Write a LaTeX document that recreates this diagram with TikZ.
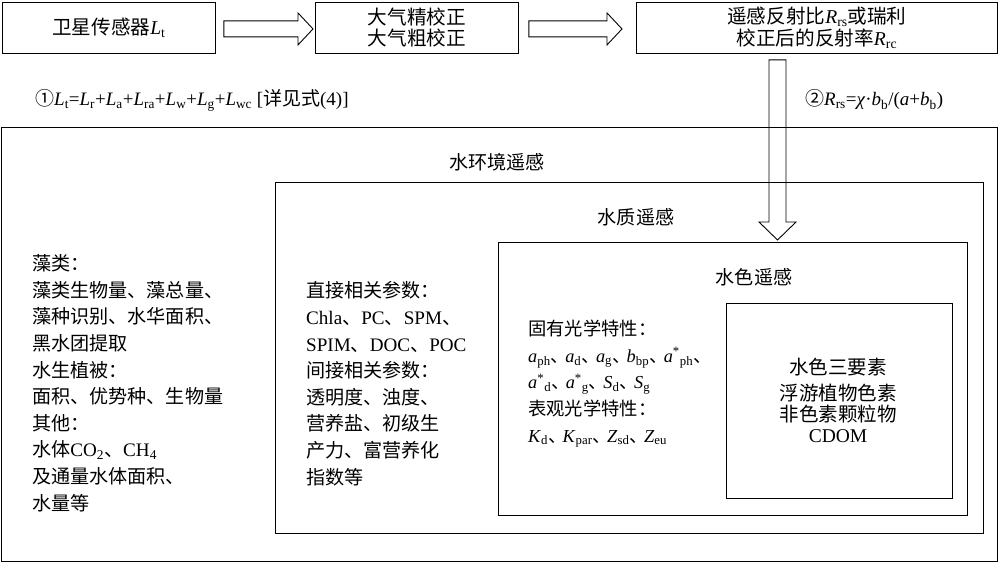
\documentclass[tikz,border=0pt]{standalone}
\usepackage{fontspec}
\setmainfont{Liberation Serif}
\newfontfamily\zhfont{Noto Sans CJK SC}
\usetikzlibrary{calc}
\newcommand\zh[1]{{\zhfont #1}}
\newcommand\vsub[2]{\textit{#1}\textsubscript{#2}}
\newcommand\vstar[2]{\textit{#1}\textsuperscript{*}\textsubscript{#2}}
\newcommand\dun{\makebox[0.8em][l]{\zh{、}}}
\begin{document}
\begin{tikzpicture}[x=1pt,y=-1pt,
  box/.style={draw, line width=0.9pt, inner sep=0pt, anchor=north west},
  topbox/.style={box, minimum height=51pt, align=center, font=\fontsize{19.6}{21}\selectfont},
  blk/.style={inner sep=0pt, align=left, anchor=base west, font=\fontsize{19.1}{26.6}\selectfont},
  lbl/.style={inner sep=0pt, anchor=base, font=\fontsize{19.1}{22}\selectfont},
  fml/.style={inner sep=0pt, anchor=base west, font=\fontsize{19}{22}\selectfont},
  hollow/.style={draw, line width=0.9pt, line join=miter}]
\useasboundingbox (0,0) rectangle (1000,564);

% top row
\node[topbox, minimum width=213pt] (b1) at (2,2) {\zh{卫星传感器}\vsub{L}{t}};
\node[topbox, minimum width=203pt] (b2) at (315,2) {\zh{大气精校正}\\\zh{大气粗校正}};
\node[topbox, minimum width=361pt, font=\fontsize{19.6}{22.5}\selectfont] (b3) at (636,2) {\zh{遥感反射比}\vsub{R}{rs}\zh{或瑞利}\hspace{10pt}\\\zh{校正后的反射率}\vsub{R}{rc}\hspace{10pt}};

% nested boxes
\node[box, minimum width=996pt, minimum height=434pt] (outer) at (1,127) {};
\node[box, minimum width=708pt, minimum height=351pt] (env) at (275,182) {};
\node[box, minimum width=469pt, minimum height=273pt] (qual) at (498,242) {};
\node[box, minimum width=226pt, minimum height=195pt] (col) at (726,303) {};

% formulas
\node[fml] (f1) at (35,106) {\zh{①}\vsub{L}{t}=\vsub{L}{r}+\vsub{L}{a}+\vsub{L}{ra}+\vsub{L}{w}+\vsub{L}{g}+\vsub{L}{wc} [\zh{详见式}(4)]};
\node[fml] (f2) at (805,106) {\zh{②}\vsub{R}{rs}=\textit{χ}·\vsub{b}{b}/(\textit{a}+\vsub{b}{b})};

% labels
\node[lbl] (lenv) at (497,170) {\zh{水环境遥感}};
\node[lbl] (lq) at (636,224) {\zh{水质遥感}};
\node[lbl] (lc) at (754,284) {\zh{水色遥感}};

% text blocks (anchor = baseline of last line)
\node[blk] (tleft) at (32,510) {\zh{藻类：}\\
\zh{藻类生物量、藻总量、}\\
\zh{藻种识别、水华面积、}\\
\zh{黑水团提取}\\
\zh{水生植被：}\\
\zh{面积、优势种、生物量}\\
\zh{其他：}\\
\zh{水体}CO\textsubscript{2}\zh{、}CH\textsubscript{4}\\
\zh{及通量水体面积、}\\
\zh{水量等}};

\node[blk] (tmid) at (306,484) {\zh{直接相关参数：}\\
Chla\zh{、}PC\zh{、}SPM\zh{、}\\
SPIM\zh{、}DOC\zh{、}POC\\
\zh{间接相关参数：}\\
\zh{透明度、浊度、}\\
\zh{营养盐、初级生}\\
\zh{产力、富营养化}\\
\zh{指数等}};

\node[blk, font=\fontsize{18.3}{26.6}\selectfont] (tcol) at (528,442) {\zh{固有光学特性：}\\
\vsub{a}{ph}\dun\vsub{a}{d}\dun\vsub{a}{g}\dun\vsub{b}{bp}\dun\vstar{a}{ph}\dun\\
\vstar{a}{d}\dun\vstar{a}{g}\dun\vsub{S}{d}\dun\vsub{S}{g}\\
\zh{表观光学特性：}\\
\vsub{K}{d}\dun\vsub{K}{par}\dun\vsub{Z}{sd}\dun\vsub{Z}{eu}};

\node[blk, align=center, anchor=base, font=\fontsize{19.5}{21}\selectfont] (tin) at (838,442) {\zh{水色三要素}\\[5pt]
\zh{浮游植物色素}\\
\zh{非色素颗粒物}\\
CDOM};

% hollow arrows
\coordinate (a1s) at ($(b1.east)+(8,1)$);
\coordinate (a1t) at ($(b2.west)+(-2,1)$);
\draw[hollow] ($(a1s)+(0,-8)$) -- ($(a1t)+(-15,-8)$) -- ($(a1t)+(-15,-16)$) -- (a1t) -- ($(a1t)+(-15,16)$) -- ($(a1t)+(-15,8)$) -- ($(a1s)+(0,8)$) -- cycle;

\coordinate (a2s) at ($(b2.east)+(10,1)$);
\coordinate (a2t) at ($(b3.west)+(-14,1)$);
\draw[hollow] ($(a2s)+(0,-8)$) -- ($(a2t)+(-15,-8)$) -- ($(a2t)+(-15,-16)$) -- (a2t) -- ($(a2t)+(-15,16)$) -- ($(a2t)+(-15,8)$) -- ($(a2s)+(0,8)$) -- cycle;

\coordinate (a3s) at ($(b3.south west)+(141.5,6)$);
\coordinate (a3t) at ($(qual.north west)+(279.5,-2)$);
\draw[hollow] ($(a3s)+(-8.5,0)$) -- ($(a3t)+(-8.5,-18)$) -- ($(a3t)+(-18.5,-18)$) -- (a3t) -- ($(a3t)+(18.5,-18)$) -- ($(a3t)+(8.5,-18)$) -- ($(a3s)+(8.5,0)$) -- cycle;
\end{tikzpicture}
\end{document}
